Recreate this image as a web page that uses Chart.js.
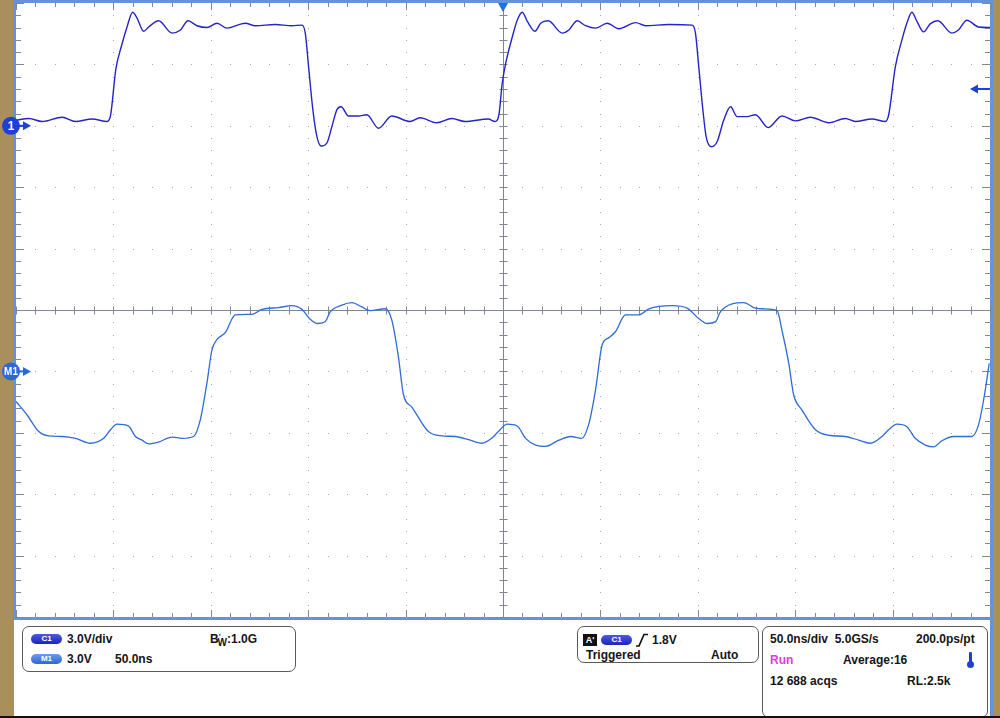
<!DOCTYPE html>
<html>
<head>
<meta charset="utf-8">
<script src="https://cdn.jsdelivr.net/npm/chart.js"></script>
<style>
  body { margin: 0; background: #fff; font-family: "Liberation Sans", Arial, sans-serif; }
  #scope { position: relative; width: 1000px; height: 718px; overflow: hidden; background: #fff; }
  .strip { position: absolute; top: 0; height: 718px; background: #a88f5c; }
  #frame { position: absolute; left: 13px; top: 0; width: 980px; height: 620px; box-sizing: border-box;
           border: 3px solid #6394da; background: #fff; }
  #rightband { position: absolute; left: 990px; top: 0; width: 3px; height: 718px; background: #6394da; }
  #bottomline { position: absolute; left: 0; top: 716px; width: 1000px; height: 2px; background: #111; }
  canvas { position: absolute; left: 0; top: 0; }
  .panel { position: absolute; box-sizing: border-box; border: 1px solid #5a5a5a; border-radius: 7px; background: #fff; }
  .t { position: absolute; font-size: 12px; font-weight: bold; color: #151515; white-space: nowrap; line-height: 14px; }
  .pill { position: absolute; width: 31px; height: 10px; border-radius: 6px; color: #fff; font-size: 8px;
          line-height: 10px; text-align: center; font-weight: bold; }
  .c1 { background: linear-gradient(#4a5ae8, #1c24b8); }
  .m1 { background: linear-gradient(#6a9cf0, #2f66d4); }
</style>
</head>
<body>
<div id="scope">
  <div class="strip" style="left:0;width:14px"></div>
  <div class="strip" style="left:993px;width:7px"></div>
  <div id="frame"></div>
  <div id="rightband"></div>
  <canvas id="scopeChart" width="1000" height="620"></canvas>

  <!-- vertical settings -->
  <div class="panel" style="left:22px;top:626px;width:274px;height:46px"></div>
  <div class="pill c1" style="left:31px;top:634px">C1</div>
  <div class="t" style="left:67px;top:632px">3.0V/div</div>
  <div class="t" style="left:210px;top:632px">B<span style="position:relative;top:-4px;font-size:8px">'</span><span style="position:relative;top:3px;font-size:10px;margin-left:-3px">W</span>:1.0G</div>
  <div class="pill m1" style="left:31px;top:654px">M1</div>
  <div class="t" style="left:67px;top:652px">3.0V</div>
  <div class="t" style="left:115px;top:652px">50.0ns</div>

  <!-- trigger -->
  <div class="panel" style="left:577px;top:626px;width:182px;height:37px"></div>
  <div style="position:absolute;left:583px;top:634px;width:14px;height:12px;background:#111;color:#fff;font-size:9px;font-weight:bold;line-height:12px;text-align:center">A'</div>
  <div class="pill c1" style="left:601px;top:635px">C1</div>
  <svg style="position:absolute;left:636px;top:633px" width="12" height="14">
    <path d="M0,13 L3,13 L8,1.5 L12,1.5" fill="none" stroke="#111" stroke-width="1.7"/>
  </svg>
  <div class="t" style="left:652px;top:633px">1.8V</div>
  <div class="t" style="left:586px;top:648px">Triggered</div>
  <div class="t" style="left:711px;top:648px">Auto</div>

  <!-- acquisition -->
  <div class="panel" style="left:762px;top:626px;width:226px;height:92px"></div>
  <div class="t" style="left:770px;top:632px">50.0ns/div&nbsp; 5.0GS/s</div>
  <div class="t" style="left:916px;top:632px">200.0ps/pt</div>
  <div class="t" style="left:770px;top:653px;color:#e03ce0">Run</div>
  <div class="t" style="left:843px;top:653px">Average:16</div>
  <div style="position:absolute;left:969px;top:652px;width:3px;height:12px;background:#1f3fd6;border-radius:1px"></div>
  <div style="position:absolute;left:967px;top:661px;width:7px;height:7px;background:#1f3fd6;border-radius:50%"></div>
  <div class="t" style="left:770px;top:674px">12 688 acqs</div>
  <div class="t" style="left:907px;top:674px">RL:2.5k</div>

  <div id="bottomline"></div>
</div>

<script>
// Horizontal: 50 ns/div, 10 divisions. Vertical values in screen divisions (10 divisions).
const NS_PER_DIV = 50;
const C1_OFFSET = 3;      // channel 1 ground marker, divisions
const M1_OFFSET = -1;     // math trace marker, divisions
const VOLTS_PER_DIV = 3.0;
const TRIGGER_LEVEL = 1.8; // volts
const TRIGGER_TIME = 0;    // ns

// Channel 1 trace
const c1Time = [-250,-243.4,-236.6,-226.3,-219.5,-210.9,-203.2,-201.4,-198.8,-195.5,
  -193.0,-190.1,-187.8,-184.5,-181.9,-176.8,-169.9,-165.6,-161.7,-157.1,
  -151.9,-146.8,-141.7,-132.3,-127.2,-116.9,-108.4,-103.2,-101.5,-99.8,
  -97.6,-95.5,-93.3,-90.4,-87.8,-85.3,-83.1,-79.3,-74.2,-69.9,
  -63.9,-57.1,-47.7,-42.6,-34.0,-26.3,-19.5,-7.5,-4.1,-2.1,
  -0.4,1.4,4.8,7.3,9.9,12.5,16.4,19.3,23.2,30.4,
  33.8,38.1,42.4,47.5,53.5,59.5,68.1,73.2,85.1,97.1,
  98.8,100.5,102.6,104.3,107.0,109.9,113.3,116.8,120.2,125.3,
  129.6,136.1,143.2,150.1,157.8,167.2,175.7,180.9,189.4,196.3,
  198.0,201.4,204.8,207.3,209.9,212.5,215.9,219.3,223.2,230.4,
  233.8,238.1,244.1,250];
const c1Div = [3.09,3.12,3.07,3.14,3.07,3.11,3.07,3.18,3.91,4.34,
  4.61,4.85,4.75,4.54,4.61,4.71,4.51,4.56,4.71,4.63,
  4.60,4.67,4.59,4.67,4.63,4.65,4.63,4.64,4.51,3.96,
  3.26,2.82,2.67,2.72,2.99,3.26,3.31,3.16,3.16,3.18,
  2.96,3.16,3.07,3.13,3.05,3.12,3.07,3.11,3.07,3.18,
  3.69,4.02,4.45,4.72,4.85,4.70,4.54,4.67,4.71,4.51,
  4.56,4.71,4.63,4.59,4.67,4.58,4.68,4.63,4.65,4.64,
  4.51,3.96,3.26,2.82,2.66,2.74,3.09,3.31,3.15,3.15,
  3.18,2.97,3.16,3.08,3.14,3.05,3.12,3.07,3.11,3.07,
  3.18,3.96,4.40,4.67,4.85,4.70,4.53,4.66,4.71,4.51,
  4.56,4.72,4.61,4.60];

// Math trace M1
const m1Time = [-250,-244.3,-238.3,-233.2,-226.3,-219.5,-211.8,-205.0,-201.5,-198.1,
  -192.2,-188.7,-185.3,-181.9,-176.8,-169.9,-164.8,-158.8,-155.4,-152.0,
  -149.4,-146.8,-142.6,-137.4,-128.9,-123.7,-115.2,-108.4,-103.2,-99.0,
  -95.5,-91.3,-88.7,-82.7,-77.6,-72.5,-68.2,-60.5,-57.1,-53.7,
  -51.1,-46.8,-38.3,-31.4,-24.6,-17.8,-10.9,-5.8,-2.4,2.2,
  7.3,11.6,16.8,21.9,28.7,34.7,40.4,44.1,47.5,50.9,
  54.4,57.8,62.9,69.7,74.9,86.8,94.5,100.5,104.8,109.1,
  111.6,117.6,123.6,129.6,133.8,140.7,143.2,146.7,149.2,153.5,
  160.4,167.2,175.7,182.6,188.6,194.5,198.0,202.2,207.3,211.6,
  216.8,221.0,225.3,231.3,240.7,244.1,246.7,249.6];
const m1Div = [-1.49,-1.71,-1.98,-2.05,-2.06,-2.09,-2.17,-2.09,-1.95,-1.86,
  -1.89,-2.06,-2.12,-2.18,-2.15,-2.07,-2.09,-2.06,-1.79,-1.19,
  -0.65,-0.48,-0.37,-0.08,-0.07,0.01,0.04,0.07,0.01,-0.15,
  -0.22,-0.19,-0.03,0.08,0.12,0.05,-0.01,0.02,-0.16,-0.76,
  -1.38,-1.58,-1.98,-2.05,-2.06,-2.11,-2.17,-2.09,-1.98,-1.86,
  -1.89,-2.09,-2.20,-2.22,-2.12,-2.06,-2.09,-1.85,-1.30,-0.57,
  -0.45,-0.35,-0.08,-0.08,0.02,0.07,0.03,-0.14,-0.22,-0.19,
  -0.03,0.10,0.12,0.03,0.02,-0.01,-0.33,-0.87,-1.38,-1.63,
  -1.95,-2.04,-2.06,-2.12,-2.17,-2.06,-1.95,-1.86,-1.90,-2.09,
  -2.20,-2.23,-2.13,-2.06,-2.06,-1.87,-1.47,-0.87];

const toPoints = (xs, ys) => xs.map((x, i) => ({ x: x, y: ys[i] }));

// scope graticule: dotted divisions, centre cross with ticks, edge ticks
const graticule = {
  id: 'graticule',
  beforeDatasetsDraw(chart) {
    const { ctx, chartArea: a, scales: { x, y } } = chart;
    ctx.save();
    ctx.fillStyle = '#a4a8b0';
    for (let i = -5; i <= 5; i++) {
      const px = Math.round(x.getPixelForValue(i * NS_PER_DIV));
      for (let j = -25; j <= 25; j++) {
        const py = Math.round(y.getPixelForValue(j / 5));
        ctx.fillRect(px, py, 1, 1);
      }
    }
    for (let j = -5; j <= 5; j++) {
      const py = Math.round(y.getPixelForValue(j));
      for (let k = -25; k <= 25; k++) {
        const px = Math.round(x.getPixelForValue(k * NS_PER_DIV / 5));
        ctx.fillRect(px, py, 1, 1);
      }
    }
    const cx = Math.round(x.getPixelForValue(0)) + 0.5;
    const cy = Math.round(y.getPixelForValue(0)) + 0.5;
    ctx.strokeStyle = '#7d8796';
    ctx.lineWidth = 1;
    ctx.beginPath();
    ctx.moveTo(a.left, cy); ctx.lineTo(a.right, cy);
    ctx.moveTo(cx, a.top); ctx.lineTo(cx, a.bottom);
    for (let k = -25; k <= 25; k++) {
      const px = Math.round(x.getPixelForValue(k * NS_PER_DIV / 5)) + 0.5;
      const len = k % 5 === 0 ? 7 : 4;
      ctx.moveTo(px, cy - 4); ctx.lineTo(px, cy + 4);
      ctx.moveTo(px, a.top); ctx.lineTo(px, a.top + len);
      ctx.moveTo(px, a.bottom); ctx.lineTo(px, a.bottom - len);
    }
    for (let j = -25; j <= 25; j++) {
      const py = Math.round(y.getPixelForValue(j / 5)) + 0.5;
      const len = j % 5 === 0 ? 8 : 5;
      ctx.moveTo(cx - 4, py); ctx.lineTo(cx + 4, py);
      ctx.moveTo(a.left, py); ctx.lineTo(a.left + len, py);
      ctx.moveTo(a.right, py); ctx.lineTo(a.right - len, py);
    }
    ctx.stroke();
    ctx.restore();
  }
};

// channel markers and trigger indicators
const markers = {
  id: 'markers',
  afterDraw(chart) {
    const { ctx, chartArea: a, scales: { x, y } } = chart;
    ctx.save();
    const badge = (py, label, color) => {
      ctx.fillStyle = color;
      ctx.beginPath();
      ctx.arc(11, py, 9, 0, Math.PI * 2);
      ctx.fill();
      ctx.fillRect(19, py - 1, 6, 2);
      ctx.beginPath();
      ctx.moveTo(23, py - 4.5); ctx.lineTo(31, py); ctx.lineTo(23, py + 4.5);
      ctx.closePath();
      ctx.fill();
      ctx.fillStyle = '#fff';
      ctx.font = 'bold ' + (label.length > 1 ? 10 : 12) + 'px "Liberation Sans", Arial';
      ctx.textAlign = 'center';
      ctx.textBaseline = 'middle';
      ctx.fillText(label, 11, py + 1);
    };
    badge(y.getPixelForValue(C1_OFFSET), '1', '#1f3fd6');
    badge(y.getPixelForValue(M1_OFFSET), 'M1', '#2c68d8');

    // trigger position
    const tx = x.getPixelForValue(TRIGGER_TIME);
    ctx.fillStyle = '#1f72e0';
    ctx.beginPath();
    ctx.moveTo(tx - 5, a.top); ctx.lineTo(tx + 5, a.top); ctx.lineTo(tx, a.top + 9);
    ctx.closePath();
    ctx.fill();

    // trigger level
    const ty = y.getPixelForValue(C1_OFFSET + TRIGGER_LEVEL / VOLTS_PER_DIV);
    ctx.fillStyle = '#1f3fd6';
    ctx.fillRect(a.right - 14, ty - 1, 14, 2);
    ctx.beginPath();
    ctx.moveTo(a.right - 12, ty - 4.5); ctx.lineTo(a.right - 20, ty); ctx.lineTo(a.right - 12, ty + 4.5);
    ctx.closePath();
    ctx.fill();
    ctx.restore();
  }
};

new Chart(document.getElementById('scopeChart').getContext('2d'), {
  type: 'line',
  data: {
    datasets: [{
      label: 'C1',
      data: toPoints(c1Time, c1Div),
      borderColor: '#2424c8',
      borderWidth: 1.4,
      pointRadius: 0,
      cubicInterpolationMode: 'monotone'
    }, {
      label: 'M1',
      data: toPoints(m1Time, m1Div),
      borderColor: '#2f6cd6',
      borderWidth: 1.3,
      pointRadius: 0,
      cubicInterpolationMode: 'monotone'
    }]
  },
  options: {
    responsive: false,
    animation: false,
    devicePixelRatio: 1,
    layout: { padding: { left: 16, right: 10, top: 3, bottom: 3 } },
    plugins: { legend: { display: false }, tooltip: { enabled: false } },
    scales: {
      x: { type: 'linear', min: -5 * NS_PER_DIV, max: 5 * NS_PER_DIV, display: false },
      y: { type: 'linear', min: -5, max: 5, display: false }
    }
  },
  plugins: [graticule, markers]
});
</script>
</body>
</html>
